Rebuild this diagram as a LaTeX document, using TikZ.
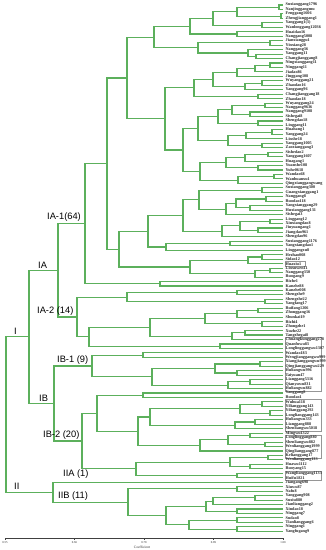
\documentclass[tikz,border=0pt]{standalone}
\usepackage{fontspec}
\setmainfont{Liberation Serif}
\newfontfamily\grpfont{Liberation Sans}
\usetikzlibrary{calc}
\definecolor{tree}{RGB}{92,176,92}
\definecolor{boxgray}{RGB}{150,150,150}
\tikzset{
  br/.style={draw=tree, line width=1.1pt},
  leaflab/.style={anchor=west, inner sep=0pt, font=\fontsize{4.2}{4.4}\selectfont\bfseries, text=black!85},
  grplab/.style={anchor=south west, inner sep=0pt, font=\grpfont\fontsize{9.3}{10}\selectfont, text=black},
  lbox/.style={draw=boxgray, line width=0.35pt},
  ticklab/.style={inner sep=0pt, font=\fontsize{3}{3.5}\selectfont, text=black!80}
}
\newcommand\jn[4]{%
  \path let \p1=(#3), \p2=(#4) in coordinate (#1) at (#2, {0.5*\y1+0.5*\y2});
  \draw[br] (#3) -| (#1) |- (#4);}
\begin{document}
\begin{tikzpicture}[x=1pt, y=-1pt]
\useasboundingbox (0,0) rectangle (326,550);
\fill[white] (0,0) rectangle (326,550);
% label boxes
\draw[lbox] (285.5,{5+58*4.46-2.3}) rectangle (305,{5+58*4.46+2.3});
\draw[lbox] (285.5,{5+75*4.46-2.4}) rectangle (321.5,{5+86*4.46+2.4});
\draw[lbox] (285.5,{5+89*4.46-2.4}) rectangle (321.5,{5+95*4.46+2.4});
\draw[lbox] (285.5,{5+97*4.46-2.4}) rectangle (321.5,{5+101*4.46+2.4});
\draw[lbox] (285.5,{5+105*4.46-2.3}) rectangle (321.5,{5+106*4.46+2.3});
% leaves
\foreach \nm [count=\k] in {Suxianggang1796, Nanjinggangmu, Fenggang1606, Zhengjianggang1, Yanggang1(3), Wanlonggang12036, Huaidao16, Nanggang5008, Jianxianggu1, Yinxiang28, Nanggang36, Yanggang11, Changjianggang8, Ningxianggang11, Ninggang11, Jiadao86, Jinggang108, Wuyanggang21, Zhaodao16, Yanggang96, Changjianggang18, Zhaodao18, Wuyanggang24, Nanggang9636, Nanggang9108, Sishegai8, Shengdao18, Linggang11, Huahang1, Yanggang24, Linshe18, Yanggang1005, Zaoxianggang3, Sishedao2, Yanggang1607, Huagang1, Yuanshe108, Yuhe0618, Wandao68, Wanhuanxu1, Qingxianggangwang, Suxianggang300, Guangxianggang1, Nanggang8, Ruodao118, Yangxianggang29, Huxianggang131, Sishegai3, Linggang12, Xinxiangdao8, Jiuyuangang1, Jiangdao961, Shengdao96, Suxianggang1176, Yangxiangdao1, Linggangxu8, Hezhao008, Sidao12, Huaxiu1, Linxuwen11, Nanggang350, Ruogang9, Rizhe1, Kanzhe88, Kanzhe008, Shengzhe9, Shengzhe22, Yangfang17, Ruifang1206, Zhonggang16, Shunkai19, Rizhi4, Zhongzhe1, Xuzhe22, Tangzhegai8, Chuangkunggang278, Quanfuwu83, Longlinggangwu1307, Wandao183, Wengjianggangwu999, Xiangjianggangwu999, Qingjianggangwu229, Huliangwu996, Taiyuan47, Lianggang5316, Qianyuwu831, Huliangwu882, Yanggang8, Ruodao1, Wuhua118, Yilianggang143, Yilianggang292, Longlianggang143, Huliangwu333, Lianggang888, Shenliangwu5018, Mingwu1322, Longlinggang880, Shenliangwu882, Wenlianggang1999, Qinglianggang877, Kelianggang17, Wenlianggang133, Huawu1112, Ruoyang15, Wanglianggang1133, Huifu1821, Jiangang698, Xiuwu87, Nafu8, Yanggang908, Suxiu880, Jianlianggang2, Xindao18, Ninggang7, Sudao8, Tianlianggang6, Ninggang1, Yangfugang9}{
  \coordinate (L\k) at (283, {5+(\k-1)*4.46});
  \node[leaflab] (T\k) at (285.5, {5+(\k-1)*4.46}) {\nm};
}
% IA-1
\jn{a1}{279}{L1}{L2}
\jn{a2}{281}{L3}{L4}
\jn{a3}{237}{a1}{a2}
\jn{a4}{262}{L5}{L6}
\jn{a5}{213}{a3}{a4}
\jn{a6}{237}{L7}{L8}
\jn{a7}{190}{a5}{a6}
\jn{a8}{270}{L9}{L10}
\jn{a9}{256}{L12}{L13}
\jn{a10}{248}{L11}{a9}
\jn{a11}{198}{a8}{a10}
\jn{G1}{154}{a7}{a11}
\jn{b1}{270}{L14}{L15}
\jn{b2}{255}{b1}{L16}
\jn{b3}{237}{b2}{L17}
\jn{b4}{262}{L18}{L19}
\jn{b5}{245}{b4}{L20}
\jn{b6}{213}{b3}{b5}
\jn{b7}{258}{L21}{L22}
\jn{U}{194}{b6}{b7}
\jn{c1}{265}{L23}{L24}
\jn{c2}{250}{L25}{L26}
\jn{c3}{232}{c1}{c2}
\jn{c4}{258}{L27}{L28}
\jn{c5}{218}{c3}{c4}
\jn{c6}{272}{L29}{L30}
\jn{c7}{246}{c6}{L31}
\jn{c8}{262}{L32}{L33}
\jn{c9}{228}{c7}{c8}
\jn{V1}{198}{c5}{c9}
\jn{d1}{268}{L34}{L35}
\jn{d2}{245}{d1}{L36}
\jn{d3}{258}{L37}{L38}
\jn{d4}{226}{d2}{d3}
\jn{d5}{274}{L39}{L40}
\jn{d6}{238}{d5}{L41}
\jn{V2}{200}{d4}{d6}
\jn{V}{183}{V1}{V2}
\jn{G2}{165}{U}{V}
\jn{H}{127}{G1}{G2}
\jn{e1}{262}{L42}{L43}
\jn{e2}{266}{L44}{L45}
\jn{e3}{250}{L46}{L47}
\jn{e4}{236}{e2}{e3}
\jn{e5}{226}{e4}{L48}
\jn{e6}{199}{e1}{e5}
\jn{e7}{270}{L49}{L50}
\jn{e8}{258}{L51}{L52}
\jn{e9}{240}{e7}{e8}
\jn{e10}{222}{e9}{L53}
\jn{W1a}{183}{e6}{e10}
\jn{e11}{230}{L54}{L55}
\jn{W1b}{166}{e11}{L56}
\jn{W1}{148}{W1a}{W1b}
\jn{f1}{262}{L57}{L58}
\jn{f2}{248}{f1}{L59}
\jn{f3}{270}{L60}{L61}
\jn{f4}{255}{f3}{L62}
\jn{W2}{190}{f2}{f4}
\jn{W}{119}{W1}{W2}
\jn{X}{107}{H}{W}
\jn{Y}{160}{L63}{L64}
\jn{IA1}{85}{X}{Y}
% IA-2
\jn{g1}{237}{L65}{L66}
\jn{g2}{265}{L67}{L68}
\jn{IA2a}{127}{g1}{g2}
\jn{g3}{258}{L69}{L70}
\jn{g4}{237}{g3}{L71}
\jn{g5}{262}{L72}{L73}
\jn{g6}{205}{g4}{g5}
\jn{g7}{245}{L74}{L75}
\jn{g8}{232}{g7}{L76}
\jn{g9}{150}{g6}{g8}
\jn{g10}{220}{L77}{L78}
\jn{IA2b}{89}{g9}{g10}
\jn{IA2}{77}{IA2a}{IA2b}
\jn{IA}{58}{IA1}{IA2}
% IB-1
\jn{IB1a}{143}{L79}{L80}
\jn{h1}{260}{L81}{L82}
\jn{h2}{237}{L83}{L84}
\jn{h3}{215}{h1}{h2}
\jn{h4}{250}{L85}{L86}
\jn{h5}{228}{h4}{L87}
\jn{IB1b}{152}{h3}{h5}
\jn{IB1}{92}{IB1a}{IB1b}
% IB-2
\jn{k1}{143}{L88}{L89}
\jn{k2}{262}{L90}{L91}
\jn{k3}{270}{L92}{L93}
\jn{k4}{240}{k2}{k3}
\jn{k5}{255}{L94}{L95}
\jn{k6}{235}{k5}{L96}
\jn{k7}{150}{k4}{k6}
\jn{k8}{250}{L97}{L98}
\jn{k9}{265}{L99}{L100}
\jn{k10}{228}{k8}{k9}
\jn{k11}{200}{k10}{L101}
\jn{k12}{138}{k7}{k11}
\jn{IB2a}{97}{k1}{k12}
\jn{m1}{268}{L102}{L103}
\jn{m2}{250}{L104}{L105}
\jn{m3}{230}{m1}{m2}
\jn{m4}{237}{L106}{L107}
\jn{IB2b}{136}{m3}{m4}
\jn{IB2}{82}{IB2a}{IB2b}
\jn{IB}{54}{IB1}{IB2}
\jn{I}{29}{IA}{IB}
% II
\jn{q1}{237}{L109}{L110}
\jn{q2}{255}{L111}{L112}
\jn{q3}{213}{q2}{L113}
\jn{q4}{237}{L114}{L115}
\jn{q5}{206}{q3}{q4}
\jn{q6}{237}{L116}{L117}
\jn{q7}{237}{L118}{L119}
\jn{q8}{189}{q6}{q7}
\jn{q9}{166}{q5}{q8}
\jn{IIB}{128}{q1}{q9}
\jn{II}{53}{L108}{IIB}
\jn{root}{6}{I}{II}
% group labels
\node[grplab] (lI) at (14,334.5) {I};
\node[grplab] (lII) at (14,489.5) {II};
\node[grplab] (lIA) at (38,268.5) {IA};
\node[grplab] (lIB) at (39,401.5) {IB};
\node[grplab] (lIA1) at (47,221.5) {IA-1(64)};
\node[grplab] (lIA2) at (37,315.5) {IA-2 (14)};
\node[grplab] (lIB1) at (57,364.5) {IB-1 (9)};
\node[grplab] (lIB2) at (43,439.5) {IB-2 (20)};
\node[grplab] (lIIA) at (63,478.5) {IIA (1)};
\node[grplab] (lIIB) at (58,500.5) {IIB (11)};
% axis
\coordinate (ax0) at (5,538);
\coordinate (ax1) at (283,538);
\draw[black!75, line width=0.4pt] (ax0) -- (ax1);
\foreach \i in {0,...,20}{
  \draw[black!75, line width=0.3pt] ({5+\i*13.9},538) -- ++(0,1.4);
}
\foreach \i/\v in {0/0.55,1/0.66,2/0.78,3/0.89,4/1.00}{
  \draw[black!75, line width=0.35pt] ({5+\i*69.5},538) -- ++(0,2.2);
  \node[ticklab] (tk\i) at ({5+\i*69.5},542.2) {\v};
}
\node[ticklab, font=\fontsize{3.6}{4}\selectfont] (coef) at (142,547) {Coefficient};
\end{tikzpicture}
\end{document}
